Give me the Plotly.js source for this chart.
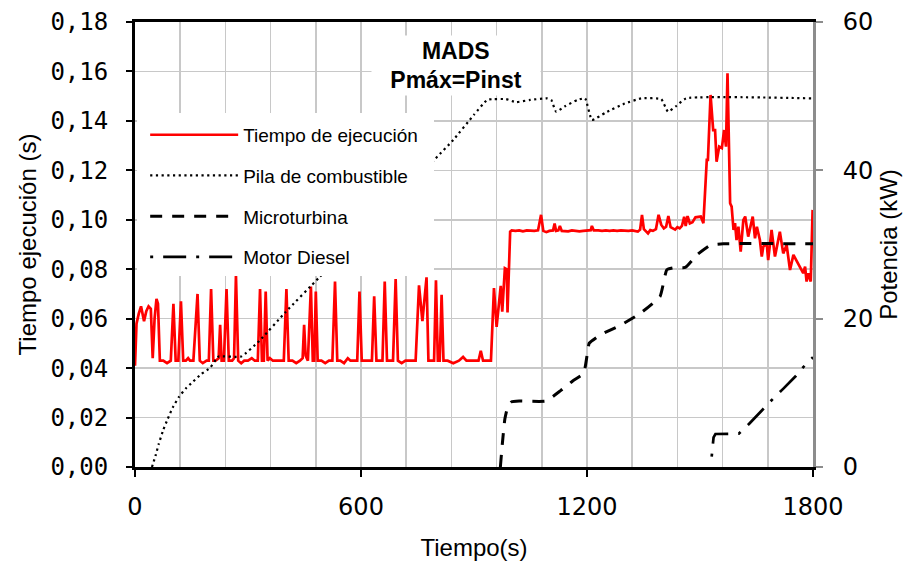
<!DOCTYPE html>
<html>
<head>
<meta charset="utf-8">
<script src="https://cdn.plot.ly/plotly-3.0.1.min.js"></script>
<style>
  html, body { margin: 0; padding: 0; background: #fff; }
  #chart { width: 903px; height: 568px; }
</style>
</head>
<body>
<div id="chart"></div>
<script>
// Tiempo de ejecución del MADS (s) frente al tiempo de simulación (s)
const tEjec = [0,4,10,16,24,30,36,42,47,52,57,61,66,75,85,95,102,108,115,122,128,135,141,146,155,166,172,180,190,196,202,208,214,222,226,230,236,243,249,258,263,268,274,282,290,300,310,318,326,332,337,342,347,352,358,366,375,385,395,402,408,418,428,438,445,449,453,459,467,472,476,480,485,495,505,515,524,531,537,545,555,565,572,580,590,596,602,612,622,629,635,641,650,657,663,669,678,685,692,698,708,718,728,738,745,754,763,774,779,788,794,799,804,809,814,819,830,845,860,871,880,895,905,912,918,924,935,945,953,960,971,975,982,987,989,996,1000,1010,1020,1030,1040,1050,1060,1070,1078,1084,1092,1100,1110,1114,1118,1124,1128,1133,1140,1150,1160,1170,1180,1190,1200,1210,1213,1218,1230,1240,1250,1260,1270,1280,1290,1300,1310,1320,1330,1335,1341,1346,1351,1356,1362,1368,1375,1383,1390,1397,1404,1410,1416,1422,1428,1434,1440,1446,1452,1458,1462,1467,1473,1480,1488,1496,1502,1509,1518,1521,1528,1535,1540,1544,1551,1558,1564,1569,1573,1580,1584,1589,1593,1597,1602,1608,1615,1620,1628,1640,1646,1651,1659,1664,1668,1677,1681,1690,1699,1712,1721,1730,1739,1748,1761,1774,1779,1783,1788,1794,1799];
const valEjec = [0.041,0.058,0.062,0.065,0.059,0.063,0.065,0.064,0.044,0.060,0.068,0.066,0.043,0.043,0.042,0.043,0.066,0.043,0.043,0.067,0.043,0.043,0.044,0.043,0.043,0.070,0.043,0.042,0.043,0.043,0.072,0.043,0.043,0.044,0.0575,0.043,0.043,0.072,0.043,0.043,0.044,0.0775,0.043,0.042,0.043,0.043,0.044,0.043,0.043,0.072,0.043,0.043,0.071,0.043,0.044,0.043,0.043,0.043,0.043,0.072,0.043,0.043,0.042,0.043,0.044,0.0575,0.045,0.043,0.073,0.043,0.043,0.071,0.043,0.043,0.042,0.043,0.043,0.075,0.043,0.043,0.042,0.044,0.043,0.043,0.043,0.071,0.043,0.043,0.043,0.043,0.069,0.043,0.043,0.043,0.075,0.043,0.043,0.043,0.076,0.043,0.042,0.043,0.043,0.043,0.043,0.0735,0.059,0.0767,0.043,0.043,0.043,0.0755,0.043,0.043,0.0697,0.043,0.043,0.042,0.043,0.0445,0.043,0.043,0.043,0.043,0.047,0.043,0.043,0.043,0.0724,0.0567,0.0733,0.0628,0.0804,0.080,0.0625,0.0952,0.0957,0.0955,0.0957,0.0953,0.0957,0.0955,0.0955,0.0957,0.102,0.0955,0.0950,0.0955,0.0957,0.0985,0.0955,0.0957,0.0975,0.0955,0.0955,0.0953,0.0957,0.0955,0.0953,0.0955,0.0957,0.0958,0.0975,0.0957,0.0957,0.0955,0.0957,0.0955,0.0957,0.0955,0.0957,0.0955,0.0955,0.0957,0.0953,0.0952,0.0960,0.102,0.0962,0.0955,0.0945,0.0958,0.0955,0.0962,0.102,0.098,0.0965,0.0972,0.1015,0.097,0.0965,0.0960,0.0970,0.0965,0.0975,0.1012,0.0975,0.1015,0.0985,0.099,0.1010,0.101,0.1013,0.0986,0.1242,0.1242,0.1505,0.1363,0.1363,0.1235,0.1296,0.129,0.1363,0.1296,0.1593,0.1067,0.1053,0.0959,0.0986,0.0918,0.0972,0.0871,0.0999,0.1013,0.0932,0.1013,0.0925,0.0972,0.0918,0.0851,0.0891,0.0905,0.0837,0.0959,0.0851,0.0952,0.0864,0.0898,0.0797,0.0858,0.0824,0.0784,0.081,0.075,0.0784,0.075,0.104];

// Potencia de la pila de combustible (kW)
const tPila = [45,55,63,75,87,100,116,135,152,175,200,215,222,282,330,400,488,600,700,798,845,900,935,952,985,1011,1050,1094,1105,1118,1140,1175,1195,1213,1250,1300,1344,1397,1415,1435,1463,1800];
const potPila = [0,1.6,3.1,5.0,6.5,8.0,9.4,10.6,11.4,12.5,13.4,14.5,14.9,14.9,17.0,20.9,25.5,31.3,36.4,41.6,44.1,47.5,49.5,49.6,49.6,49.2,49.5,49.7,49.5,47.9,48.6,49.5,49.7,46.8,47.8,49.0,49.7,49.6,47.9,48.6,49.7,49.7];

// Potencia de la microturbina (kW)
const tMicro = [970,975,982,990,1000,1020,1091,1130,1162,1191,1200,1206,1235,1288,1341,1394,1412,1434,1461,1492,1527,1562,1800];
const potMicro = [0,3.0,6.5,8.2,8.8,8.9,8.9,10.3,11.6,12.6,15.0,16.7,17.8,19.1,20.7,23.0,26.6,26.9,26.9,28.6,29.9,30.1,30.1];

// Potencia del motor diésel (kW)
const tDiesel = [1531,1536,1541,1571,1603,1630,1666,1690,1720,1755,1773,1800];
const potDiesel = [1.4,4.0,4.45,4.45,4.5,5.8,7.8,9.0,10.5,12.3,13.4,14.8];

// Etiquetas de los ejes
const ticksEjec = [0,0.02,0.04,0.06,0.08,0.10,0.12,0.14,0.16,0.18];
const textoEjec = ['0,00','0,02','0,04','0,06','0,08','0,10','0,12','0,14','0,16','0,18'];
const ticksTiempo = [0,600,1200,1800];
const textoTiempo = ['0','600','1200','1800'];
const ticksPot = [0,20,40,60];

const nombres = ['Tiempo de ejecución','Pila de combustible','Microturbina','Motor Diesel'];

const sans = 'Liberation Sans, Arial, sans-serif';
const numFont = 'DejaVu Sans, sans-serif';
const monoFont = 'DejaVu Sans Mono, monospace';
const grid = '#c8c8c8';

const traces = [
  {x: tEjec, y: valEjec, name: nombres[0], type: 'scatter', mode: 'lines',
   line: {color: '#ff0000', width: 2.7}, legendgroup: 'a', yaxis: 'y'},
  {x: tPila, y: potPila, name: nombres[1], type: 'scatter', mode: 'lines',
   line: {color: '#000', width: 2.2, dash: '2.2px,3.5px', shape: 'spline', smoothing: 0.4}, legendgroup: 'b', yaxis: 'y2'},
  {x: tMicro, y: potMicro, name: nombres[2], type: 'scatter', mode: 'lines',
   line: {color: '#000', width: 3, dash: '12px,10px', shape: 'spline', smoothing: 0.4}, legendgroup: 'c', yaxis: 'y2'},
  {x: tDiesel, y: potDiesel, name: nombres[3], type: 'scatter', mode: 'lines',
   line: {color: '#000', width: 2.7, dash: '3px,10px,23px,10px'}, legendgroup: 'd', yaxis: 'y2'}
];

const layout = {
  width: 903, height: 568,
  margin: {l: 135, r: 90, t: 22, b: 101},
  paper_bgcolor: '#fff', plot_bgcolor: '#fff',
  showlegend: true,
  legend: {
    x: 0.015, y: 0.789, xanchor: 'left', yanchor: 'top',
    bgcolor: '#fff', borderwidth: 0,
    font: {family: sans, size: 19, color: '#000'},
    itemwidth: 88, traceorder: 'grouped', tracegroupgap: 13
  },
  // fondo blanco del recuadro de la leyenda
  shapes: [{
    type: 'rect', xref: 'paper', yref: 'paper', layer: 'above',
    x0: 0.003, x1: 0.441, y0: 0.436, y1: 0.7955,
    fillcolor: '#fff', line: {width: 0}
  }],
  xaxis: {
    range: [0, 1800], tickmode: 'array', tickvals: ticksTiempo, ticktext: textoTiempo,
    ticks: 'outside', ticklen: 7, tickwidth: 2, tickcolor: '#000',
    ticklabelstandoff: 9,
    showline: true, linecolor: '#000', linewidth: 3, mirror: true,
    showgrid: true, gridcolor: grid, gridwidth: 1.5, zeroline: false,
    minor: {tickmode: 'linear', tick0: 0, dtick: 120, showgrid: true, gridcolor: grid, gridwidth: 1.5, ticks: ''},
    tickfont: {family: numFont, size: 24, color: '#000'},
    title: {text: 'Tiempo(s)', font: {family: sans, size: 24, color: '#000'}, standoff: 20}
  },
  yaxis: {
    range: [0, 0.18], tickmode: 'array', tickvals: ticksEjec, ticktext: textoEjec,
    ticks: 'outside', ticklen: 6, tickwidth: 2, tickcolor: '#000',
    ticklabelstandoff: 13,
    showline: true, linecolor: '#000', linewidth: 3,
    showgrid: true, gridcolor: grid, gridwidth: 1.5, zeroline: false,
    tickfont: {family: monoFont, size: 24, color: '#000'},
    title: {text: 'Tiempo ejecución (s)', font: {family: sans, size: 24, color: '#000'}, standoff: 8}
  },
  yaxis2: {
    range: [0, 60], overlaying: 'y', side: 'right',
    tickmode: 'array', tickvals: ticksPot,
    ticks: 'outside', ticklen: 7, tickwidth: 2, tickcolor: '#8c8c8c',
    ticklabelstandoff: 15,
    showline: true, linecolor: '#8c8c8c', linewidth: 3,
    showgrid: false, zeroline: false,
    tickfont: {family: numFont, size: 24, color: '#000'},
    title: {text: 'Potencia (kW)', font: {family: sans, size: 24, color: '#000'}, standoff: 8}
  },
  annotations: [{
    xref: 'paper', yref: 'paper', x: 0.4735, y: 0.903,
    xanchor: 'center', yanchor: 'middle',
    text: '<b>MADS</b><br><b>Pmáx=Pinst</b>', showarrow: false,
    font: {family: sans, size: 23, color: '#000'},
    bgcolor: '#fff', width: 168, height: 59, borderpad: 0, align: 'center'
  }]
};

Plotly.newPlot('chart', traces, layout, {displayModeBar: false, staticPlot: true});
</script>
</body>
</html>
